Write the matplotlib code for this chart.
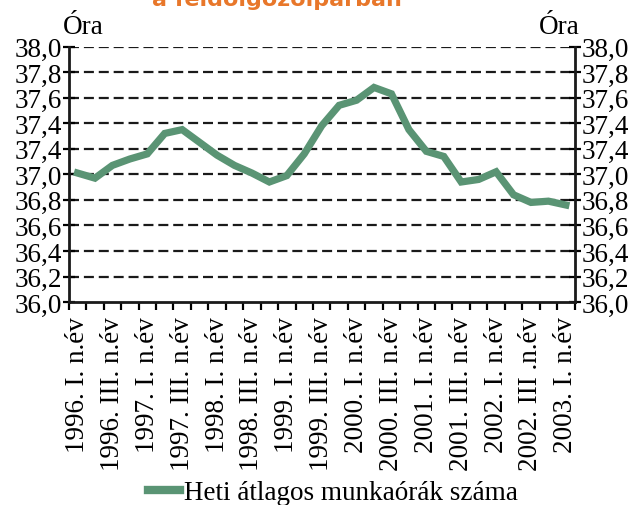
import matplotlib.pyplot as plt
import numpy as np
from matplotlib.lines import Line2D

# quarterly values, 1996 Q1 .. 2003 Q1
hours = [37.01, 36.97, 37.07, 37.12, 37.16, 37.32, 37.35, 37.25, 37.15, 37.07,
         37.01, 36.94, 36.99, 37.16, 37.38, 37.54, 37.58, 37.68, 37.63, 37.35,
         37.18, 37.14, 36.94, 36.96, 37.02, 36.84, 36.78, 36.79, 36.76]
xlabels = ['1996. I. n.év', '1996. III. n.év', '1997. I. n.év', '1997. III. n.év',
           '1998. I. n.év', '1998. III. n.év', '1999. I. n.év', '1999. III. n.év',
           '2000. I. n.év', '2000. III. n.év', '2001. I. n.év', '2001. III. n.év',
           '2002. I. n.év', '2002. III .n.év', '2003. I. n.év']
yticks = [36.0, 36.2, 36.4, 36.6, 36.8, 37.0, 37.2, 37.4, 37.6, 37.8, 38.0]
# labels as printed in the original (37,2 appears as 37,4)
ytick_labels = ['36,0', '36,2', '36,4', '36,6', '36,8', '37,0', '37,4', '37,4',
                '37,6', '37,8', '38,0']
series_name = 'Heti átlagos munkaórák száma'

green = '#5a9474'
plt.rcParams['font.family'] = ['Liberation Serif', 'DejaVu Serif']

fig = plt.figure(figsize=(6.37, 5.06), dpi=100)
ax = fig.add_axes([0.108, 0.401, 0.794, 0.505])

x = np.arange(len(hours))
ax.plot(x, hours, color=green, lw=5.2, solid_joinstyle='miter', zorder=3)

ax.set_xlim(-0.5, len(hours) - 0.5)
ax.set_ylim(36.0, 38.0)

# dashed grid
for v in yticks[1:]:
    ax.axhline(v, color='#1a1a1a', lw=1.6, dashes=(4.5, 2.2), zorder=1)

ax.set_yticks(yticks)
ax.set_yticklabels(ytick_labels, fontsize=19.5)
ax.tick_params(axis='y', direction='inout', length=8, width=1.6, pad=1,
               left=True, right=True, labelleft=True, labelright=True)

ax.set_xticks(x[::2])
ax.set_xticklabels(xlabels, rotation=90, fontsize=19.5, va='top')
ax.tick_params(axis='x', which='major', length=0, pad=10)
ax.set_xticks(np.arange(len(hours) + 1) - 0.5, minor=True)
ax.tick_params(axis='x', which='minor', direction='out', length=6, width=1.6)

ax.spines['top'].set_visible(False)
for s in ['left', 'right', 'bottom']:
    ax.spines[s].set_linewidth(2)
    ax.spines[s].set_color('#1a1a1a')

fig.text(0.099, 0.932, 'Óra', fontsize=19.5, ha='left', va='baseline')
fig.text(0.91, 0.932, 'Óra', fontsize=19.5, ha='right', va='baseline')

fig.text(0.435, 0.988, 'a feldolgozóiparban', fontsize=16, fontweight='bold',
         color='#e8772a', family='DejaVu Sans', ha='center', va='baseline')

h = Line2D([], [], color=green, lw=6)
fig.legend([h], [series_name], loc='center', bbox_to_anchor=(0.523, 0.024),
           frameon=False, fontsize=19.5, handlelength=1.2, handletextpad=0.15)

fig.savefig('out.png', dpi=100)
